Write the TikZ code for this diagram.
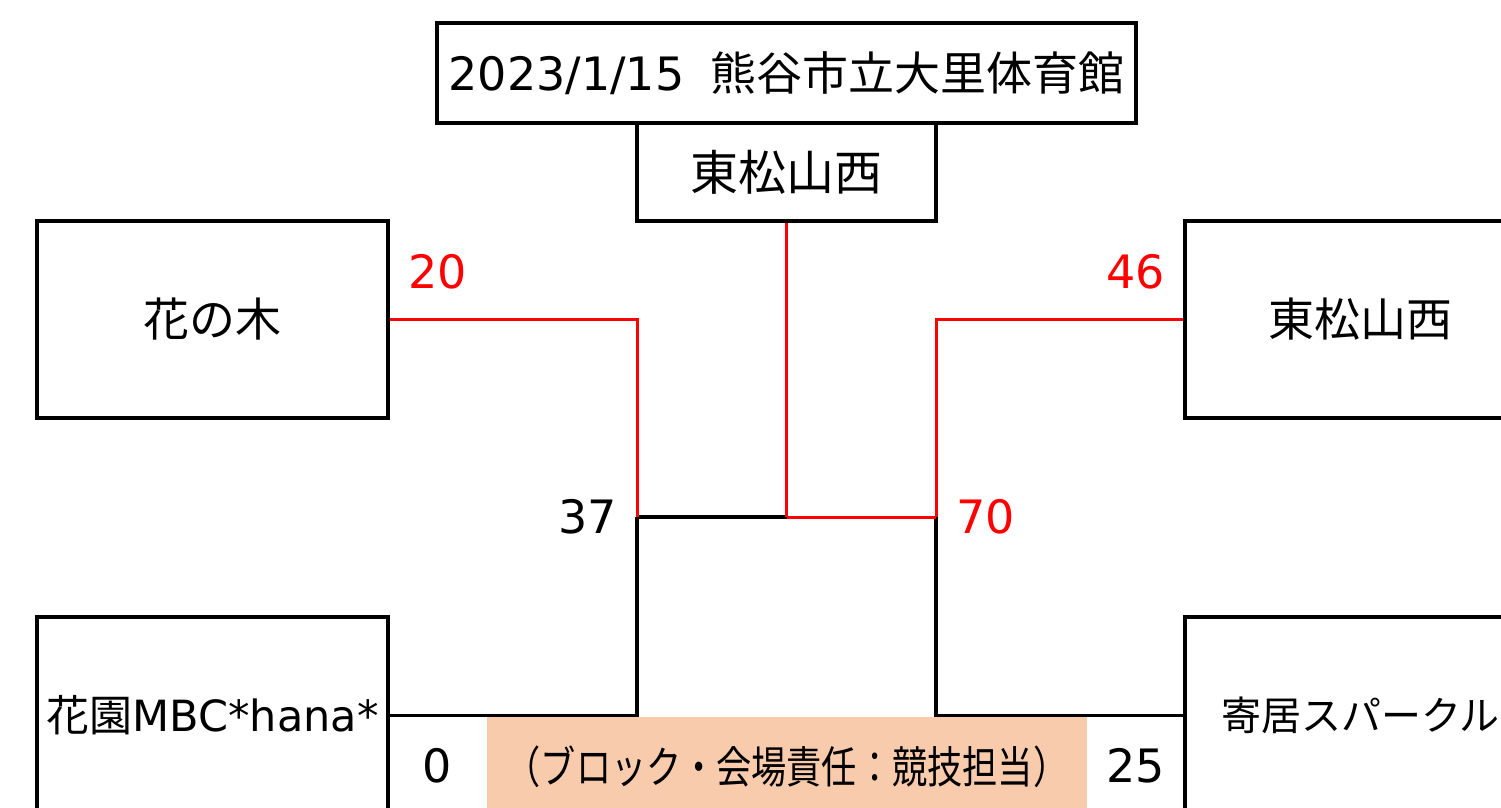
\documentclass[tikz,border=0pt]{standalone}
\usepackage{fontspec}
\usepackage{graphicx}
\setmainfont{DejaVu Sans}
\newfontfamily\jp{Noto Sans CJK JP}
\definecolor{peach}{HTML}{F8CBAD}
\definecolor{scorered}{HTML}{FF0000}
\tikzset{
  teambox/.style={draw=black, line width=1.9pt, fill=white, inner sep=0pt,
    minimum width=175.5pt, minimum height=98.5pt, font=\fontsize{23}{26}\selectfont},
  headbox/.style={draw=black, line width=1.9pt, inner sep=0pt},
  wline/.style={draw=scorered, line width=1.5pt},
  lline/.style={draw=black, line width=1.75pt},
  redscore/.style={text=scorered, inner sep=0pt, font=\fontsize{23}{26}\selectfont},
  blkscore/.style={text=black, inner sep=0pt, font=\fontsize{23}{26}\selectfont}
}
\begin{document}
\begin{tikzpicture}[x=0.5pt, y=-0.5pt]
\clip (0,0) rectangle (1501,808);
\fill[white] (0,0) rectangle (1501,808);
% orange note box
\node[fill=peach, inner sep=0pt, minimum width=300pt, minimum height=50pt] (note) at (787,767)
  {\fontsize{22}{26}\selectfont\scalebox{0.8}[1]{\jp （ブロック・会場責任：競技担当）}};
% header boxes
\node[headbox, minimum width=349.5pt, minimum height=50pt,
  font=\fontsize{23}{26}\selectfont] (title) at (786.5,73) {2023/1/15\hspace{13pt}{\jp 熊谷市立大里体育館}};
\node[headbox, minimum width=149.5pt, minimum height=49pt,
  font=\fontsize{24}{26}\selectfont] (winner) at (786.5,172) {\jp 東松山西};
% team boxes
\node[teambox] (hananoki) at (212.5,319.5) {\jp 花の木};
\node[teambox, font=\fontsize{21.5}{24}\selectfont] (hanazono) at (212.5,715.5) {{\jp 花園}MBC*hana*};
\node[teambox] (higashi) at (1360.5,319.5) {\jp 東松山西};
\node[teambox, font=\fontsize{20}{24}\selectfont] (yorii) at (1360.5,715.5) {\jp 寄居スパークル};
% junctions
\coordinate (jl) at (637,517);
\coordinate (jc) at (786.5,517);
\coordinate (jr) at (936,517);
% lines
\draw[lline] (hanazono.east) -| (jl);
\draw[lline] (yorii.west) -| (jr);
\draw[lline] (jl) -- (jc);
\draw[wline] (hananoki.east) -| (jl);
\draw[wline] (higashi.west) -| (jr);
\draw[wline] (jc) -- (jr);
\draw[wline] (winner.south) -- (jc);
% scores
\node[redscore] (s20) at (438,272) {20};
\node[redscore] (s46) at (1136,272) {46};
\node[blkscore] (s37) at (588,517) {37};
\node[redscore] (s70) at (986,517) {70};
\node[blkscore] (s0) at (437,766) {0};
\node[blkscore] (s25) at (1136,766) {25};
\end{tikzpicture}
\end{document}
